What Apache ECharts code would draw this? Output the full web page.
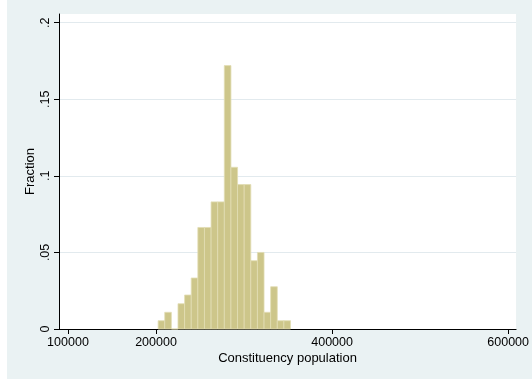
<!DOCTYPE html>
<html>
<head>
<meta charset="utf-8">
<script src="https://cdn.jsdelivr.net/npm/echarts@6/dist/echarts.min.js"></script>
<style>
html,body{margin:0;padding:0;background:#ffffff;}
#chart{width:532px;height:382px;}
</style>
</head>
<body>
<div id="chart"></div>
<script>
// Histogram bins (Constituency population) and fractions
var binStart = 202400;
var binWidth = 7520;
var fractions = [0.0054, 0.0109, 0, 0.0165, 0.0222, 0.0333, 0.0663, 0.0663, 0.083, 0.083,
                 0.172, 0.1056, 0.0943, 0.0943, 0.0446, 0.05, 0.0109, 0.0276, 0.0054, 0.0054];
var xTicks = [100000, 200000, 400000, 600000];
var yTicks = [0, 0.05, 0.1, 0.15, 0.2];
var yTickLabels = ['0', '.05', '.1', '.15', '.2'];
var xTitle = 'Constituency population';
var yTitle = 'Fraction';

var binData = fractions.map(function (f, i) {
  return [binStart + i * binWidth, binStart + (i + 1) * binWidth, f];
});

var font = '"Liberation Sans", Arial, sans-serif';
var chart = echarts.init(document.getElementById('chart'), null, {renderer: 'canvas'});
chart.setOption({
  animation: false,
  backgroundColor: '#ffffff',
  graphic: [{
    type: 'rect', z: -10, silent: true,
    shape: {x: 7, y: 0, width: 525, height: 379},
    style: {fill: '#eaf2f3'}
  }],
  grid: {left: 59, right: 15, top: 14, bottom: 53, show: true, backgroundColor: '#ffffff', borderWidth: 0},
  xAxis: {
    type: 'value', min: 89800, max: 609000,
    name: xTitle, nameLocation: 'middle', nameGap: 23, nameMoveOverlap: false,
    nameTextStyle: {fontFamily: font, fontSize: 13, color: '#000'},
    axisLine: {show: true, lineStyle: {color: '#000', width: 1}},
    axisTick: {show: true, length: 5, customValues: xTicks, lineStyle: {color: '#000'}},
    axisLabel: {customValues: xTicks, margin: 7, fontFamily: font, fontSize: 12.5, color: '#000',
      formatter: function (v) { return String(v); }},
    splitLine: {show: false}
  },
  yAxis: {
    type: 'value', min: 0, max: 0.2057,
    name: yTitle, nameLocation: 'middle', nameGap: 22, nameRotate: 90, nameMoveOverlap: false,
    nameTextStyle: {fontFamily: font, fontSize: 13, color: '#000'},
    axisLine: {show: true, lineStyle: {color: '#000', width: 1}},
    axisTick: {show: true, length: 5, customValues: yTicks, lineStyle: {color: '#000'}},
    axisLabel: {customValues: yTicks, rotate: 90, margin: 7, fontFamily: font, fontSize: 12.5, color: '#000',
      formatter: function (v) {
        for (var i = 0; i < yTicks.length; i++) { if (Math.abs(v - yTicks[i]) < 1e-9) return yTickLabels[i]; }
        return '';
      }},
    splitLine: {show: true, lineStyle: {color: '#e2eaee', width: 1}}
  },
  series: [{
    type: 'custom',
    data: binData,
    encode: {x: [0, 1], y: 2},
    renderItem: function (params, api) {
      var p0 = api.coord([api.value(0), 0]);
      var p1 = api.coord([api.value(1), api.value(2)]);
      return {
        type: 'rect',
        shape: {x: p0[0], y: p1[1], width: p1[0] - p0[0], height: p0[1] - p1[1]},
        style: {fill: '#cdc68a', stroke: '#e2ddb4', lineWidth: 0.8}
      };
    }
  }]
});
</script>
</body>
</html>
